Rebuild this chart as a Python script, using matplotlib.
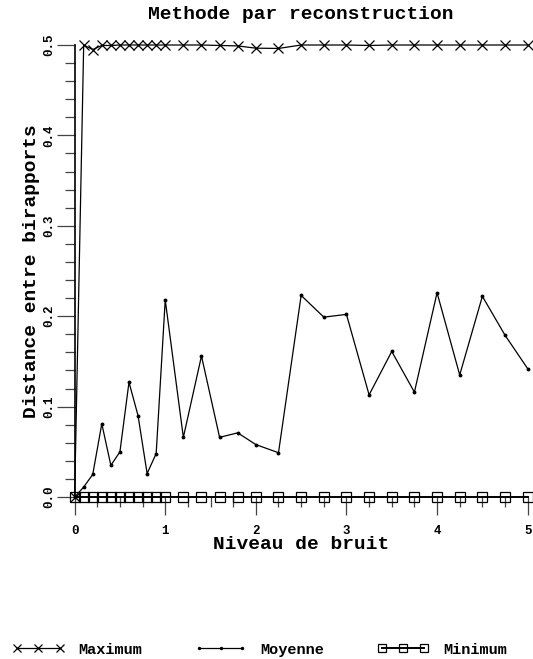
import matplotlib
matplotlib.use("Agg")
from matplotlib import pyplot as plt
from matplotlib.ticker import MultipleLocator

# niveaux de bruit
niveau = [0.0, 0.1, 0.2, 0.3, 0.4, 0.5, 0.6, 0.7, 0.8, 0.9, 1.0,
          1.2, 1.4, 1.6, 1.8, 2.0,
          2.25, 2.5, 2.75, 3.0, 3.25, 3.5, 3.75, 4.0, 4.25, 4.5, 4.75, 5.0]
maximum = [0.0, 0.5, 0.495, 0.4995, 0.4995, 0.5, 0.5, 0.5, 0.5, 0.5, 0.5,
           0.5, 0.5, 0.4995, 0.499, 0.4965,
           0.4962, 0.5, 0.5, 0.5, 0.4995, 0.5, 0.5, 0.5, 0.5, 0.5, 0.5, 0.5]
moyenne = [0.0, 0.011, 0.025, 0.081, 0.035, 0.050, 0.127, 0.090, 0.026, 0.048, 0.218,
           0.066, 0.156, 0.066, 0.071, 0.058,
           0.049, 0.223, 0.199, 0.202, 0.113, 0.161, 0.116, 0.226, 0.135, 0.222, 0.179, 0.142]
minimum = [0.0] * len(niveau)

police = {'family': 'Liberation Mono', 'weight': 'bold'}

fig = plt.figure(figsize=(5.33, 6.59), dpi=100)
ax = fig.add_axes([0.140, 0.2458, 0.850, 0.6859])

ax.plot(niveau, maximum, color='black', lw=0.9, marker='x', ms=7, mew=0.9,
        label='Maximum', clip_on=False)
ax.plot(niveau, moyenne, color='black', lw=0.9, marker='o', ms=1.8,
        label='Moyenne', clip_on=False)
ax.plot(niveau, minimum, color='black', lw=1.4, marker='s', ms=6.5, mew=0.9,
        mfc='none', label='Minimum', clip_on=False, zorder=3)

ax.set_xlim(0, 5)
ax.set_ylim(0, 0.5)
for s in ['top', 'right', 'bottom']:
    ax.spines[s].set_visible(False)
ax.spines['left'].set_linewidth(1.2)

ax.xaxis.set_major_locator(MultipleLocator(1))
ax.xaxis.set_minor_locator(MultipleLocator(0.25))
ax.yaxis.set_major_locator(MultipleLocator(0.1))
ax.yaxis.set_minor_locator(MultipleLocator(0.02))
ax.tick_params(which='major', direction='out', length=13, width=0.9, color='#444444')
ax.tick_params(which='minor', direction='out', length=7, width=0.9, color='#444444')
ax.tick_params(axis='x', pad=7)
ax.tick_params(axis='y', pad=1)

ax.set_xticks([0, 1, 2, 3, 4, 5])
ax.set_xticklabels(['0', '1', '2', '3', '4', '5'], fontdict=dict(police, size=9))
ax.set_yticks([0.0, 0.1, 0.2, 0.3, 0.4, 0.5])
ax.set_yticklabels(['0.0', '0.1', '0.2', '0.3', '0.4', '0.5'],
                   fontdict=dict(police, size=9), rotation=90, va='center')

ax.set_title('Methode par reconstruction', fontdict=dict(police, size=14), pad=19)
ax.set_xlabel('Niveau de bruit', fontdict=dict(police, size=14))
ax.xaxis.set_label_coords(0.5, -0.086)
ax.set_ylabel('Distance entre birapports', fontdict=dict(police, size=14))
ax.yaxis.set_label_coords(-0.077, 0.5)

fig.legend(loc='center', bbox_to_anchor=(0.487, 0.014), ncol=3, frameon=False,
           numpoints=3, handlelength=3.4, columnspacing=3.45, handletextpad=0.9,
           markerscale=0.8,
           prop={'family': 'Liberation Mono', 'weight': 'bold', 'size': 11})

fig.savefig('out.png', dpi=100)
